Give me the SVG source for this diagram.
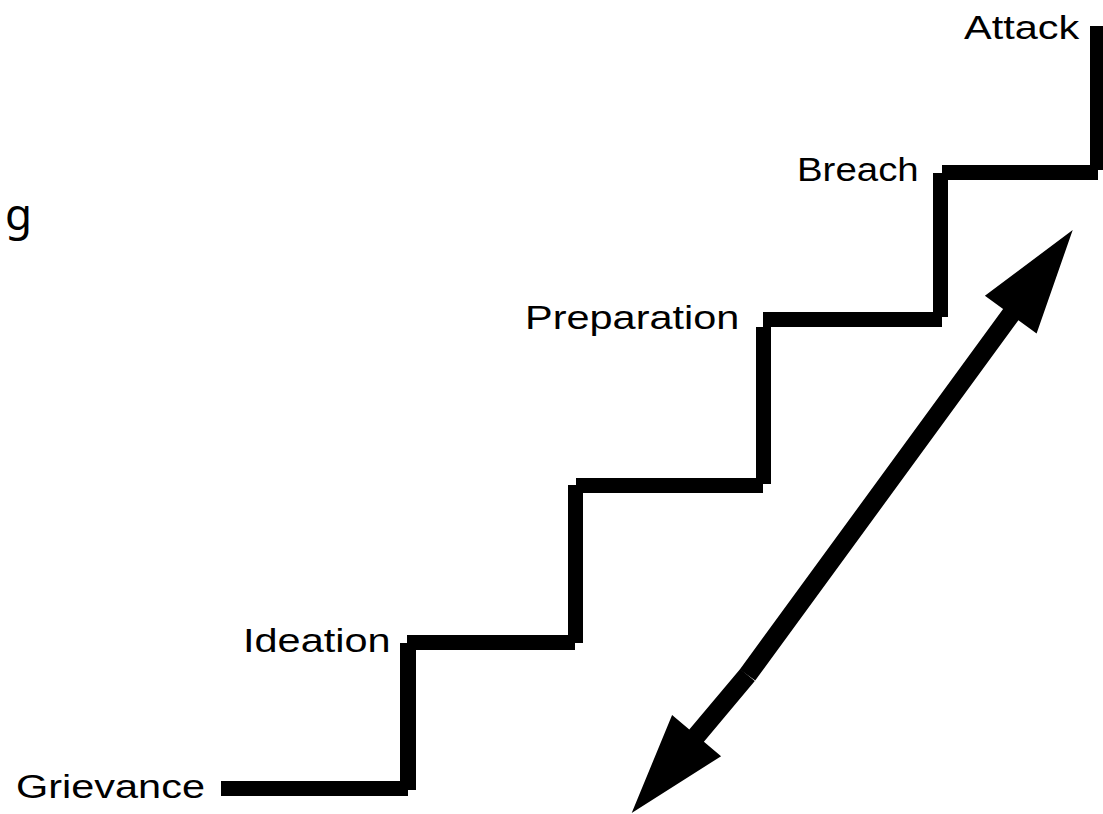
<svg xmlns="http://www.w3.org/2000/svg" width="1103" height="814" viewBox="0 0 1103 814">
  <style>
    .label { font-family: "Liberation Sans", Arial, sans-serif; font-size: 34px; fill: #000; }
    .stair { fill: #000; }
    .arrow { fill: #000; }
  </style>
  <rect x="0" y="0" width="1103" height="814" fill="#fff"/>

  <!-- stray glyph at the left edge -->
  <text x="5" y="230" font-family="'Noto Sans', Roboto, sans-serif" font-size="44" fill="#000">g</text>

  <!-- staircase steps: each step is a tread (horizontal) and a riser (vertical);
       labels are widened horizontally -->
  <g id="step-grievance">
    <text class="label" transform="translate(16,797.5) scale(1.22,1)">Grievance</text>
    <rect class="stair" x="221" y="781" width="187" height="15"/>
    <rect class="stair" x="400" y="643" width="16" height="147"/>
  </g>
  <g id="step-ideation">
    <text class="label" transform="translate(243,652) scale(1.22,1)">Ideation</text>
    <rect class="stair" x="407" y="635" width="168" height="15"/>
    <rect class="stair" x="568" y="485" width="15" height="158"/>
  </g>
  <g id="step-middle">
    <rect class="stair" x="576" y="478" width="187" height="15"/>
    <rect class="stair" x="756" y="327" width="15" height="157"/>
  </g>
  <g id="step-preparation">
    <text class="label" transform="translate(525,329) scale(1.22,1)">Preparation</text>
    <rect class="stair" x="763" y="312" width="179" height="15"/>
    <rect class="stair" x="933" y="173" width="15" height="144"/>
  </g>
  <g id="step-breach">
    <text class="label" transform="translate(797,181) scale(1.13,1)">Breach</text>
    <rect class="stair" x="942" y="165" width="156" height="15"/>
    <rect class="stair" x="1090" y="26" width="15" height="144"/>
  </g>
  <g id="step-attack">
    <text class="label" transform="translate(964,39) scale(1.22,1)">Attack</text>
  </g>

  <!-- double-headed diagonal arrow, built from two halves meeting mid-shaft -->
  <g id="connectors">
    <polygon class="arrow" points="739.8,669.4 1003.1,309.1 984.9,295.8 1072.7,230 1036.6,333.6 1018.4,320.3 755.2,680.6"/>
    <polygon class="arrow" points="740.2,668.9 689.3,729.5 672.1,715.0 631.7,813 721.1,756.2 703.9,741.7 754.8,681.1"/>
  </g>
</svg>
